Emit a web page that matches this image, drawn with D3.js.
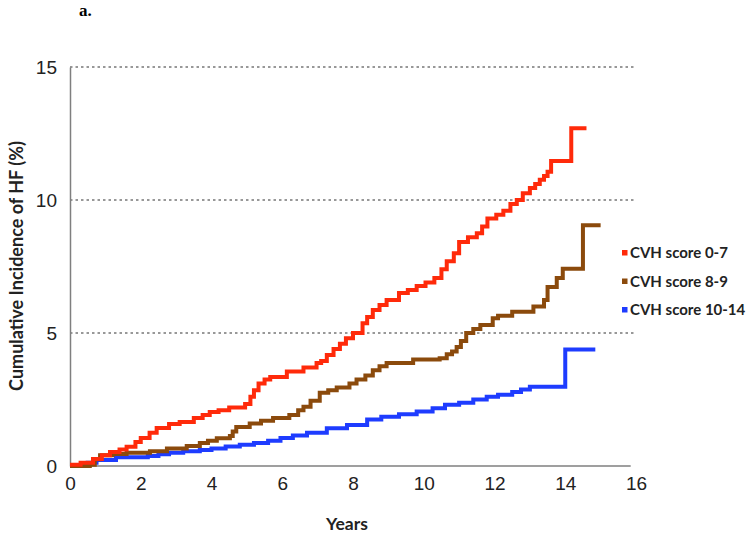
<!DOCTYPE html>
<html><head><meta charset="utf-8">
<script src="https://cdn.jsdelivr.net/npm/d3@7"></script>
<style>body{margin:0;background:#fff}svg{display:block}</style>
</head><body>
<script>
// ---- data ----
const seriesNames = ["CVH score 0-7", "CVH score 8-9", "CVH score 10-14"];
const seriesColors = ["#ff2a0a", "#8b4a0c", "#1e3cff"];
const xTicks = [0, 2, 4, 6, 8, 10, 12, 14, 16];
const yTicks = [0, 5, 10, 15];

const redTime = [0,0.3,0.65,0.9,1.13,1.4,1.6,1.85,2.0,2.25,2.45,2.8,3.1,3.5,3.75,3.95,4.2,4.5,4.95,5.1,5.2,5.33,5.5,5.66,6.13,6.6,6.97,7.1,7.26,7.45,7.63,7.8,8.0,8.27,8.4,8.56,8.75,8.95,9.3,9.55,9.8,10.05,10.3,10.5,10.65,10.85,11.0,11.25,11.5,11.65,11.8,12.05,12.25,12.45,12.63,12.8,13.0,13.15,13.28,13.4,13.5,13.6,14.17,14.6];
const redValue = [0.05,0.12,0.26,0.4,0.53,0.62,0.72,0.9,1.05,1.25,1.43,1.58,1.65,1.8,1.92,2.03,2.1,2.2,2.33,2.6,2.85,3.1,3.25,3.35,3.55,3.7,3.87,3.95,4.17,4.4,4.6,4.8,5.0,5.37,5.6,5.86,6.05,6.24,6.5,6.62,6.77,6.9,7.07,7.4,7.7,8.0,8.42,8.6,8.75,9.0,9.3,9.45,9.6,9.85,10.0,10.25,10.45,10.6,10.76,10.9,11.06,11.47,12.7,12.7];

const brownTime = [0,0.56,0.7,0.85,1.2,1.6,2.26,2.74,3.3,3.67,3.9,4.15,4.52,4.6,4.7,5.08,5.4,5.74,6.2,6.45,6.6,6.8,7.06,7.3,7.54,7.9,8.1,8.35,8.56,8.75,8.95,9.7,10.45,10.65,10.8,10.93,11.05,11.2,11.4,11.6,11.95,12.1,12.5,13.1,13.4,13.5,13.76,13.93,14.5,15.0];
const brownValue = [0,0.05,0.25,0.4,0.45,0.5,0.55,0.66,0.75,0.86,0.95,1.04,1.13,1.3,1.47,1.6,1.7,1.8,1.92,2.1,2.23,2.45,2.75,2.85,2.95,3.1,3.25,3.4,3.6,3.75,3.87,4.0,4.05,4.2,4.3,4.47,4.7,5.0,5.15,5.3,5.55,5.65,5.8,6.0,6.24,6.73,7.07,7.42,9.05,9.05];

const blueTime = [0,0.5,0.75,1.3,2.2,2.5,2.8,3.2,3.67,4.0,4.4,4.8,5.2,5.6,5.95,6.3,6.7,7.26,7.83,8.4,8.8,9.3,9.8,10.25,10.6,11.0,11.4,11.78,12.1,12.5,12.75,13.0,14.0,14.85];
const blueValue = [0,0.12,0.23,0.33,0.38,0.44,0.5,0.55,0.6,0.66,0.73,0.8,0.86,0.95,1.05,1.15,1.25,1.42,1.54,1.75,1.85,1.95,2.05,2.17,2.3,2.38,2.5,2.6,2.68,2.78,2.88,2.98,4.38,4.38];

const series = [
  {name: seriesNames[0], color: seriesColors[0], t: redTime, v: redValue},
  {name: seriesNames[1], color: seriesColors[1], t: brownTime, v: brownValue},
  {name: seriesNames[2], color: seriesColors[2], t: blueTime, v: blueValue}
];

// ---- layout ----
const W = 750, H = 537;
const svg = d3.select("body").append("svg").attr("width", W).attr("height", H);
const x = d3.scaleLinear().domain([0, 16]).range([70, 636]);
const y = d3.scaleLinear().domain([0, 15]).range([466, 67]);

svg.append("text").attr("x", 79).attr("y", 16)
  .attr("font-family", "Liberation Serif, serif").attr("font-weight", "bold").attr("font-size", 17)
  .text("a.");

// gridlines
svg.append("g").selectAll("line").data(yTicks.filter(d => d > 0)).join("line")
  .attr("x1", x(0)).attr("x2", x(16)).attr("y1", d => y(d)).attr("y2", d => y(d))
  .attr("stroke", "#777").attr("stroke-width", 1.3).attr("stroke-dasharray", "2.5,3");

// axes
const yAxis = svg.append("g").attr("transform", `translate(${x(0)},0)`)
  .call(d3.axisLeft(y).tickValues(yTicks).tickSize(0).tickPadding(13));
const xAxis = svg.append("g").attr("transform", `translate(0,${y(0)})`)
  .call(d3.axisBottom(x).tickValues(xTicks).tickSize(0).tickPadding(11));
[yAxis, xAxis].forEach(a => {
  a.select(".domain").attr("stroke", "#7f7f7f").attr("stroke-width", 1.5);
  a.selectAll("text").attr("font-family", "Liberation Sans, Arial, sans-serif")
    .attr("font-size", 19).attr("fill", "#222");
});
xAxis.select(".domain").attr("d", `M${x(0)},0H${x(15.85)}`);

// lines
const line = d3.line().x(d => x(d[0])).y(d => y(d[1])).curve(d3.curveStepAfter);
[2, 1, 0].forEach(i => {
  const s = series[i];
  svg.append("path").datum(s.t.map((t, j) => [t, s.v[j]]))
    .attr("d", line).attr("fill", "none").attr("stroke", s.color)
    .attr("stroke-width", 4).attr("stroke-linejoin", "miter");
});

// axis titles
svg.append("text").attr("x", 347).attr("y", 530).attr("text-anchor", "middle")
  .attr("font-family", "Lato, sans-serif").attr("font-weight", "bold").attr("font-size", 17.5)
  .attr("fill", "#222").text("Years");
svg.append("text").attr("transform", "translate(23,266) rotate(-90)").attr("text-anchor", "middle")
  .attr("font-family", "Lato, sans-serif").attr("font-weight", "bold").attr("font-size", 18)
  .attr("fill", "#222").text("Cumulative Incidence of HF (%)");

// legend
const leg = svg.append("g");
series.forEach((s, i) => {
  const ly = 253 + i * 28.5;
  leg.append("rect").attr("x", 622).attr("y", ly - 3).attr("width", 5.5).attr("height", 5.5).attr("fill", s.color);
  leg.append("text").attr("x", 630).attr("y", ly + 5)
    .attr("font-family", "Lato, sans-serif").attr("font-weight", "bold").attr("font-size", 15)
    .attr("fill", "#222").text(s.name);
});
</script>
</body></html>
